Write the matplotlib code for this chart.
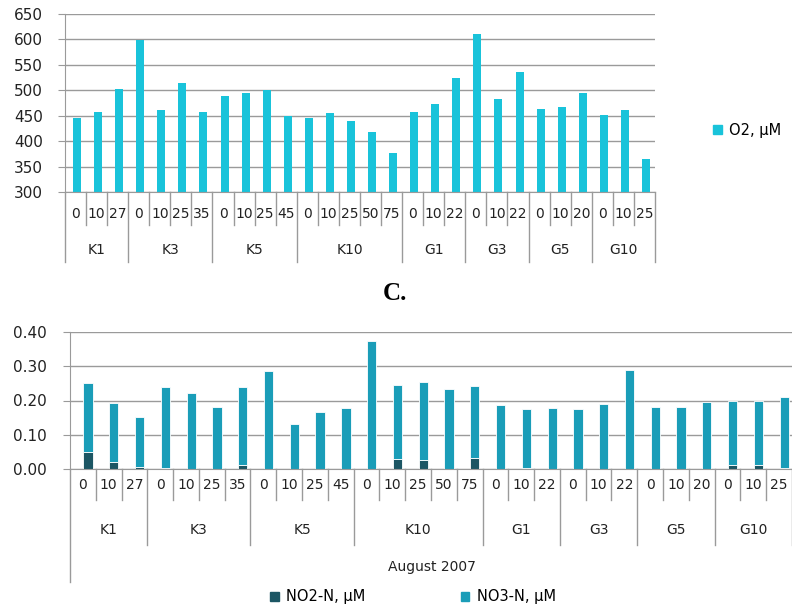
import numpy as np
import matplotlib
matplotlib.use("Agg")
import matplotlib.pyplot as plt
from matplotlib.patches import Patch
from matplotlib.transforms import blended_transform_factory

STATIONS = ["K1", "K3", "K5", "K10", "G1", "G3", "G5", "G10"]
DEPTHS = [["0", "10", "27"], ["0", "10", "25", "35"], ["0", "10", "25", "45"],
          ["0", "10", "25", "50", "75"], ["0", "10", "22"], ["0", "10", "22"],
          ["0", "10", "20"], ["0", "10", "25"]]

O2 = [446, 458, 502,
      598, 462, 514, 458,
      488, 495, 500, 449,
      446, 456, 440, 417, 376,
      458, 474, 524,
      611, 482, 536,
      464, 468, 494,
      451, 461, 365]

NO2 = [0.051, 0.020, 0.005,
       0.002, 0.001, 0.001, 0.012,
       0.001, 0.001, 0.001, 0.001,
       0.001, 0.028, 0.025, 0.001, 0.032,
       0.001, 0.003, 0.001,
       0.001, 0.001, 0.001,
       0.001, 0.001, 0.001,
       0.013, 0.012, 0.002]
TOTAL_N = [0.250, 0.194, 0.153,
           0.238, 0.223, 0.180, 0.240,
           0.286, 0.131, 0.166, 0.179,
           0.373, 0.245, 0.253, 0.235, 0.242,
           0.187, 0.175, 0.177,
           0.174, 0.191, 0.288,
           0.180, 0.180, 0.196,
           0.198, 0.198, 0.210]
NO3 = [t - n for t, n in zip(TOTAL_N, NO2)]

C_O2 = "#19c3da"
C_NO3 = "#1a9db8"
C_NO2 = "#1c5664"
GRID = "#9a9a9a"
FONT = "DejaVu Sans"
TXT = "#222222"

plt.rcParams["font.family"] = FONT

W, H = 792, 610
fig = plt.figure(figsize=(W / 100, H / 100), dpi=100)


def px_axes(l, t, r, b):
    return fig.add_axes([l / W, 1 - b / H, (r - l) / W, (b - t) / H])


def group_axis(ax, depth_y, group_y, short_y, long_y, axis_y):
    tr = blended_transform_factory(ax.transData, ax.transAxes)
    pos = 0
    starts = []
    for st, dl in zip(STATIONS, DEPTHS):
        starts.append(pos)
        for k, d in enumerate(dl):
            ax.text(pos + k, depth_y, d, transform=tr, ha="center", va="center",
                    fontsize=10, color=TXT, clip_on=False)
            if k > 0:
                ax.plot([pos + k - 0.5] * 2, [0, short_y], transform=tr,
                        color=GRID, lw=1, clip_on=False)
        ax.text(pos + (len(dl) - 1) / 2, group_y, st, transform=tr, ha="center",
                va="center", fontsize=10, color=TXT, clip_on=False)
        pos += len(dl)
    for s in starts[1:] + [pos]:
        ax.plot([s - 0.5] * 2, [0, long_y], transform=tr, color=GRID, lw=1,
                clip_on=False)
    ax.plot([-0.5] * 2, [0, axis_y], transform=tr, color=GRID, lw=1, clip_on=False)
    return pos


def style(ax, pad):
    ax.set_xticks([])
    for s in ["top", "right"]:
        ax.spines[s].set_visible(False)
    for s in ["left", "bottom"]:
        ax.spines[s].set_color(GRID)
    ax.yaxis.grid(True, color=GRID, lw=1)
    ax.set_axisbelow(True)
    ax.tick_params(axis="y", length=5, color=GRID, labelsize=11, labelcolor=TXT,
                   pad=pad)


# ---- top: O2
ax1 = px_axes(65, 14, 655, 192)
x = np.arange(len(O2))
ax1.bar(x + 0.07, np.array(O2) - 300, bottom=300, width=0.38, color=C_O2)
ax1.set_ylim(300, 650)
ax1.set_yticks(range(300, 651, 50))
ax1.set_xlim(-0.5, len(O2) - 0.5)
style(ax1, 11)
h1 = 192 - 14
group_axis(ax1, -22 / h1, -58 / h1, -33 / h1, -70 / h1, -70 / h1)
fig.legend([Patch(color=C_O2)], ["O2, \u00b5M"], loc="center left",
           bbox_to_anchor=(700 / W, 1 - 130 / H), frameon=False,
           handlelength=0.6, handleheight=0.6, handletextpad=0.5, fontsize=10.5)

fig.text(395 / W, 1 - 293 / H, "C.", family="Liberation Serif", weight="bold",
         fontsize=18, ha="center", va="center")

# ---- bottom: NO2 / NO3
ax2 = px_axes(70, 332, 794, 469)
x = np.arange(len(NO2))
ax2.bar(x + 0.2, NO2, width=0.36, color=C_NO2, edgecolor="white", lw=0.6)
ax2.bar(x + 0.2, NO3, bottom=NO2, width=0.36, color=C_NO3, edgecolor="white", lw=0.6)
ax2.set_ylim(0, 0.40)
ax2.set_yticks(np.arange(0, 0.41, 0.1))
ax2.set_yticklabels([f"{v:.2f}" for v in np.arange(0, 0.41, 0.1)])
ax2.set_xlim(-0.5, len(NO2) - 0.5 + 0.08)
style(ax2, 12)
h2 = 469 - 332
group_axis(ax2, -16 / h2, -61 / h2, -31 / h2, -76 / h2, -113 / h2)
ax2.text(432 / W, 1 - 567 / H, "August 2007", transform=fig.transFigure,
         ha="center", va="center", fontsize=10, color=TXT)
fig.legend([Patch(color=C_NO2), Patch(color=C_NO3)],
           ["NO2-N, \u00b5M", "NO3-N, \u00b5M"], loc="center",
           bbox_to_anchor=(413 / W, 1 - 597 / H), ncol=2, frameon=False,
           handlelength=0.6, handleheight=0.6, handletextpad=0.5,
           columnspacing=6.5, fontsize=10.5)

fig.savefig("out.png", dpi=100)
